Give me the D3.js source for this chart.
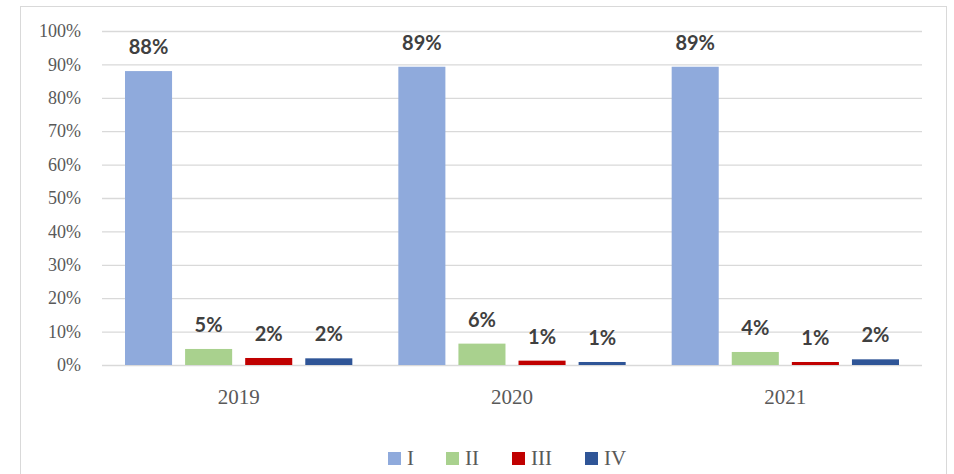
<!DOCTYPE html>
<html>
<head>
<meta charset="utf-8">
<script src="https://cdn.jsdelivr.net/npm/d3@7"></script>
<style>
  body { margin: 0; background: #fff; }
  svg { display: block; }
</style>
</head>
<body>
<div class="container"></div>
<script>
const years = ['2019', '2020', '2021'];
const seriesNames = ['I', 'II', 'III', 'IV'];
const seriesI = [0.88, 0.893, 0.893];
const seriesII = [0.048, 0.064, 0.039];
const seriesIII = [0.021, 0.013, 0.009];
const seriesIV = [0.02, 0.009, 0.017];
const colors = ['#8faadc', '#a9d18e', '#c00000', '#2f5597'];
const yTicks = [0, 0.1, 0.2, 0.3, 0.4, 0.5, 0.6, 0.7, 0.8, 0.9, 1];

const allSeries = [seriesI, seriesII, seriesIII, seriesIV];

const w = 954, h = 474;
const pLeft = 102, pRight = 922, pTop = 31, pBottom = 365;
const serif = '"Liberation Serif", serif';

const svg = d3.select('.container')
  .append('svg')
  .attr('width', w)
  .attr('height', h);

// chart frame
svg.append('rect')
  .attr('x', 20.5).attr('y', 6.5)
  .attr('width', 926).attr('height', 480)
  .attr('fill', 'none')
  .attr('stroke', '#d9d9d9');

const x0 = d3.scaleBand()
  .domain(years)
  .range([pLeft, pRight]);

const x1 = d3.scaleBand()
  .domain(seriesNames)
  .range([23, x0.bandwidth() - 23])
  .paddingInner(0.217);

const y = d3.scaleLinear()
  .domain([0, 1])
  .range([pBottom, pTop]);

const yAxis = d3.axisLeft(y)
  .tickValues(yTicks)
  .tickSize(-(pRight - pLeft))
  .tickPadding(21)
  .tickFormat(d3.format('.0%'));

const gy = svg.append('g')
  .attr('transform', `translate(${pLeft},0)`)
  .call(yAxis);
gy.select('.domain').remove();
gy.selectAll('.tick line').attr('stroke', '#d9d9d9').attr('stroke-width', 1.3);
gy.selectAll('.tick text')
  .attr('fill', '#595959')
  .style('font-family', serif)
  .style('font-size', '18px');

const xAxis = d3.axisBottom(x0).tickSize(0).tickPadding(24);
const gx = svg.append('g')
  .attr('transform', `translate(0,${pBottom})`)
  .call(xAxis);
gx.select('.domain').remove();
gx.selectAll('.tick text')
  .attr('fill', '#595959')
  .style('font-family', serif)
  .style('font-size', '21px');

const groups = svg.selectAll('.year')
  .data(years)
  .enter()
  .append('g')
  .attr('class', 'year')
  .attr('transform', d => `translate(${x0(d)},0)`);

groups.each(function(year, i) {
  const g = d3.select(this);
  const vals = allSeries.map((s, k) => ({ name: seriesNames[k], v: s[i], c: colors[k] }));
  g.selectAll('rect')
    .data(vals)
    .enter()
    .append('rect')
    .attr('x', d => x1(d.name))
    .attr('width', x1.bandwidth())
    .attr('y', d => y(d.v))
    .attr('height', d => y(0) - y(d.v))
    .attr('fill', d => d.c);
  g.selectAll('text')
    .data(vals)
    .enter()
    .append('text')
    .attr('x', d => x1(d.name) + x1.bandwidth() / 2)
    .attr('y', d => y(d.v) - 17)
    .attr('text-anchor', 'middle')
    .attr('fill', '#404040')
    .style('font-family', 'Lato, sans-serif')
    .style('font-weight', 'bold')
    .style('font-size', '20px')
    .text(d => Math.round(d.v * 100) + '%');
});

// legend
const legendX = [388, 446, 512, 585];
const legend = svg.selectAll('.legend')
  .data(seriesNames)
  .enter()
  .append('g')
  .attr('class', 'legend')
  .attr('transform', (d, i) => `translate(${legendX[i]},452)`);
legend.append('rect')
  .attr('width', 13).attr('height', 13)
  .attr('fill', (d, i) => colors[i]);
legend.append('text')
  .attr('x', 19).attr('y', 13)
  .attr('fill', '#595959')
  .style('font-family', serif)
  .style('font-size', '21px')
  .text(d => d);
</script>
</body>
</html>
